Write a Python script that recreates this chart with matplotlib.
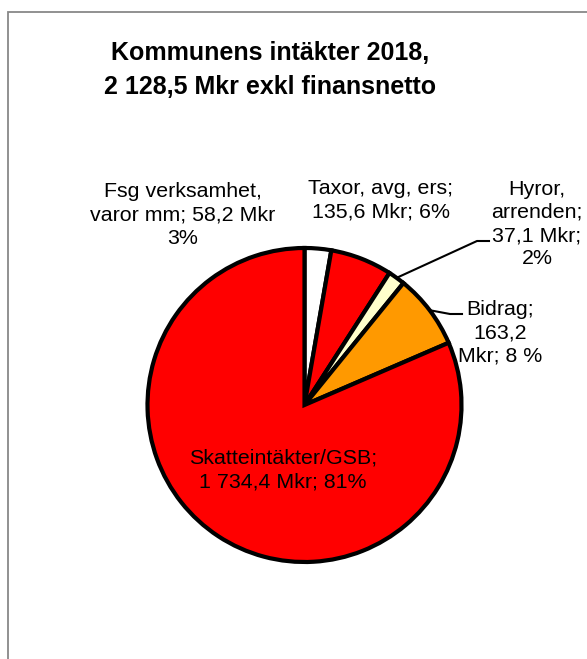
import matplotlib
matplotlib.use('Agg')
import matplotlib.pyplot as plt
import numpy as np
from matplotlib.patches import Rectangle

plt.rcParams['font.family'] = ['Liberation Sans', 'DejaVu Sans']

# Data (Mkr), clockwise from 12 o'clock
categories = ['Fsg verksamhet', 'Taxor, avg, ers', 'Hyror, arrenden', 'Bidrag', 'Skatteintäkter/GSB']
values = [58.2, 135.6, 37.1, 163.2, 1734.4]
labels = [
    'Fsg verksamhet,\nvaror mm; 58,2 Mkr\n3%',
    'Taxor, avg, ers;\n135,6 Mkr; 6%',
    'Hyror,\narrenden;\n37,1 Mkr;\n2%',
    'Bidrag;\n163,2\nMkr; 8 %',
    'Skatteintäkter/GSB;\n1 734,4 Mkr; 81%',
]
colors = ['#FFFFFF', '#FF0000', '#FFFFCC', '#FF9900', '#FF0000']
title = 'Kommunens intäkter 2018,\n2 128,5 Mkr exkl finansnetto'

W, H = 587, 659
cx, cy, R = 304.5, 405.0, 157.0  # pie centre / radius in pixels


def px(x, y):
    # pixel position -> data coords (pie radius = 1)
    return (x - cx) / R, (cy - y) / R


fig = plt.figure(figsize=(W / 100, H / 100), dpi=100)
fig.patch.set_facecolor('white')
ax = fig.add_axes([0, 0, 1, 1])

wedges, _ = ax.pie(values, colors=colors, startangle=90, counterclock=False,
                   radius=1, wedgeprops=dict(edgecolor='black', linewidth=3.0))

ax.set_xlim(-cx / R, (W - cx) / R)
ax.set_ylim(-(H - cy) / R, cy / R)
ax.set_aspect('auto')
ax.axis('off')

# outer chart frame (only left/top edges inside the picture)
fig.add_artist(Rectangle((8 / W, -0.1), 1.2, (H - 12) / H + 0.1,
                         transform=fig.transFigure, fill=False,
                         edgecolor='#888888', linewidth=1.3))

ax.text(*px(270, 70), title, ha='center', va='center', fontsize=18,
        fontweight='bold', linespacing=1.5)

label_pos = [(183, 215), (381, 200), (537, 224), (500, 333), (283, 470)]
for lab, (x, y) in zip(labels, label_pos):
    ax.text(*px(x, y), lab, ha='center', va='center', fontsize=15.4,
            linespacing=1.28)


def edge_point(w):
    a = np.deg2rad((w.theta1 + w.theta2) / 2)
    return np.cos(a), np.sin(a)


# leader lines for Hyror and Bidrag
for w, elbow, end in [(wedges[2], (477, 241), (489, 241)),
                      (wedges[3], (450, 314), (462, 314))]:
    x0, y0 = edge_point(w)
    x1, y1 = px(*elbow)
    x2, y2 = px(*end)
    ax.plot([x0, x1, x2], [y0, y1, y2], color='black', linewidth=1.5)

fig.savefig('out.png', dpi=100)
